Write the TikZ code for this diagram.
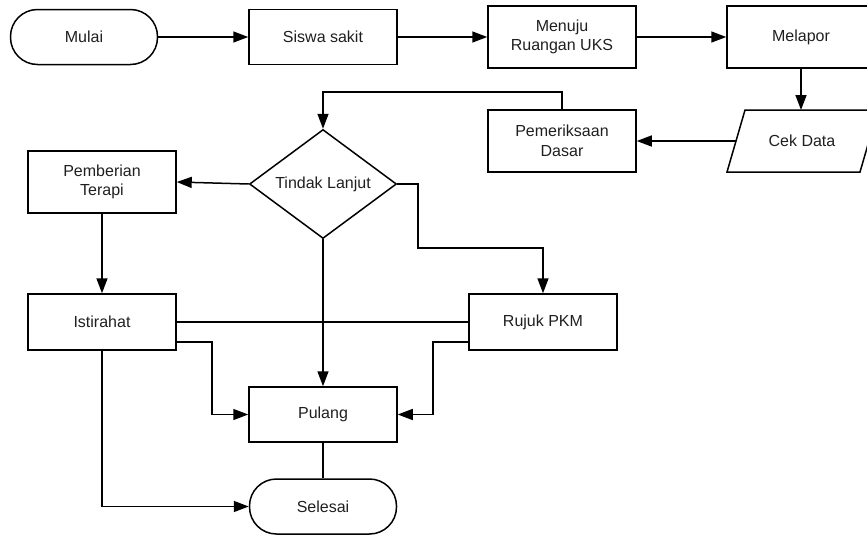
\documentclass[tikz,border=0pt]{standalone}
\usepackage{fontspec}
\setmainfont{Liberation Sans}
\usetikzlibrary{arrows.meta,shapes.geometric}

\begin{document}
\begin{tikzpicture}[x=1pt,y=-1pt,
  every node/.style={font=\fontsize{16}{19.5}\selectfont, text=black!88, align=center, inner sep=0pt},
  box/.style={draw, line width=1.5pt, minimum width=148pt, minimum height=#1},
  box/.default=62pt,
  terminal/.style={draw, line width=1.5pt, rounded corners=27pt, minimum width=147pt, minimum height=55pt},
  decision/.style={draw, line width=1.5pt, diamond, aspect=1.35, minimum width=147pt, minimum height=109pt},
  outline/.style={line width=1.5pt, line join=miter},
  flow/.style={line width=1.5pt, -{Triangle[length=15pt,width=11pt]}},
  link/.style={line width=1.5pt}
]
\useasboundingbox (0,0) rectangle (867,536);

% top row
\node[terminal] (mulai) at (84,37) {Mulai};
\node[box=55pt] (siswa) at (323,37) {Siswa sakit};
\node[box] (menuju) at (562,37) {Menuju\\Ruangan UKS};
\node[box] (melapor) at (801,37) {Melapor};

% input/output parallelogram
\node (cek) at (802,141) {Cek Data};
\coordinate (cekbl) at (727,172);
\coordinate (cektl) at (745,110);
\coordinate (cektr) at (878,110);
\coordinate (cekbr) at (860,172);
\draw[outline] (cekbl) -- (cektl) -- (cektr) -- (cekbr) -- cycle;
\coordinate (cektop) at (801,110);
\coordinate (cekleft) at (736,141);

% second row
\node[box] (periksa) at (562,141) {Pemeriksaan\\Dasar};
\node[decision] (tindak) at (323,184) {Tindak Lanjut};
\node[box] (terapi) at (102,182) {Pemberian\\Terapi};

% lower part
\node[box=56pt] (istirahat) at (102,322) {Istirahat};
\node[box=56pt] (rujuk) at (543,322) {Rujuk PKM};
\node[box=55pt] (pulang) at (323,414.5) {Pulang};
\node[terminal] (selesai) at (323,506.5) {Selesai};

% bend points
\coordinate (up) at (323,92);
\coordinate (rbend) at (418,248);
\coordinate (lpul) at (212,414.5);
\coordinate (rpul) at (433,414.5);

% connectors
\draw[flow] (mulai) -- (siswa);
\draw[flow] (siswa) -- (menuju);
\draw[flow] (menuju) -- (melapor);
\draw[flow] (melapor.south) -- (cektop);
\draw[flow] (cekleft) -- (periksa.east);
\draw[flow] (periksa.north) |- (up) -- (tindak.north);
\draw[flow] (tindak.west) -- (terapi.east);
\draw[flow] (tindak.east) -| (rbend) -| (rujuk.north);
\draw[flow] (tindak.south) -- (pulang.north);
\draw[flow] (terapi) -- (istirahat);
\draw[link] (istirahat.east) -- (rujuk.west);
\draw[flow] ([yshift=-20pt]istirahat.east) -| (lpul) -- (pulang.west);
\draw[flow] ([yshift=-20pt]rujuk.west) -| (rpul) -- (pulang.east);
\draw[link] (pulang) -- (selesai);
\draw[flow] (istirahat.south) |- (selesai.west);
\end{tikzpicture}
\end{document}
